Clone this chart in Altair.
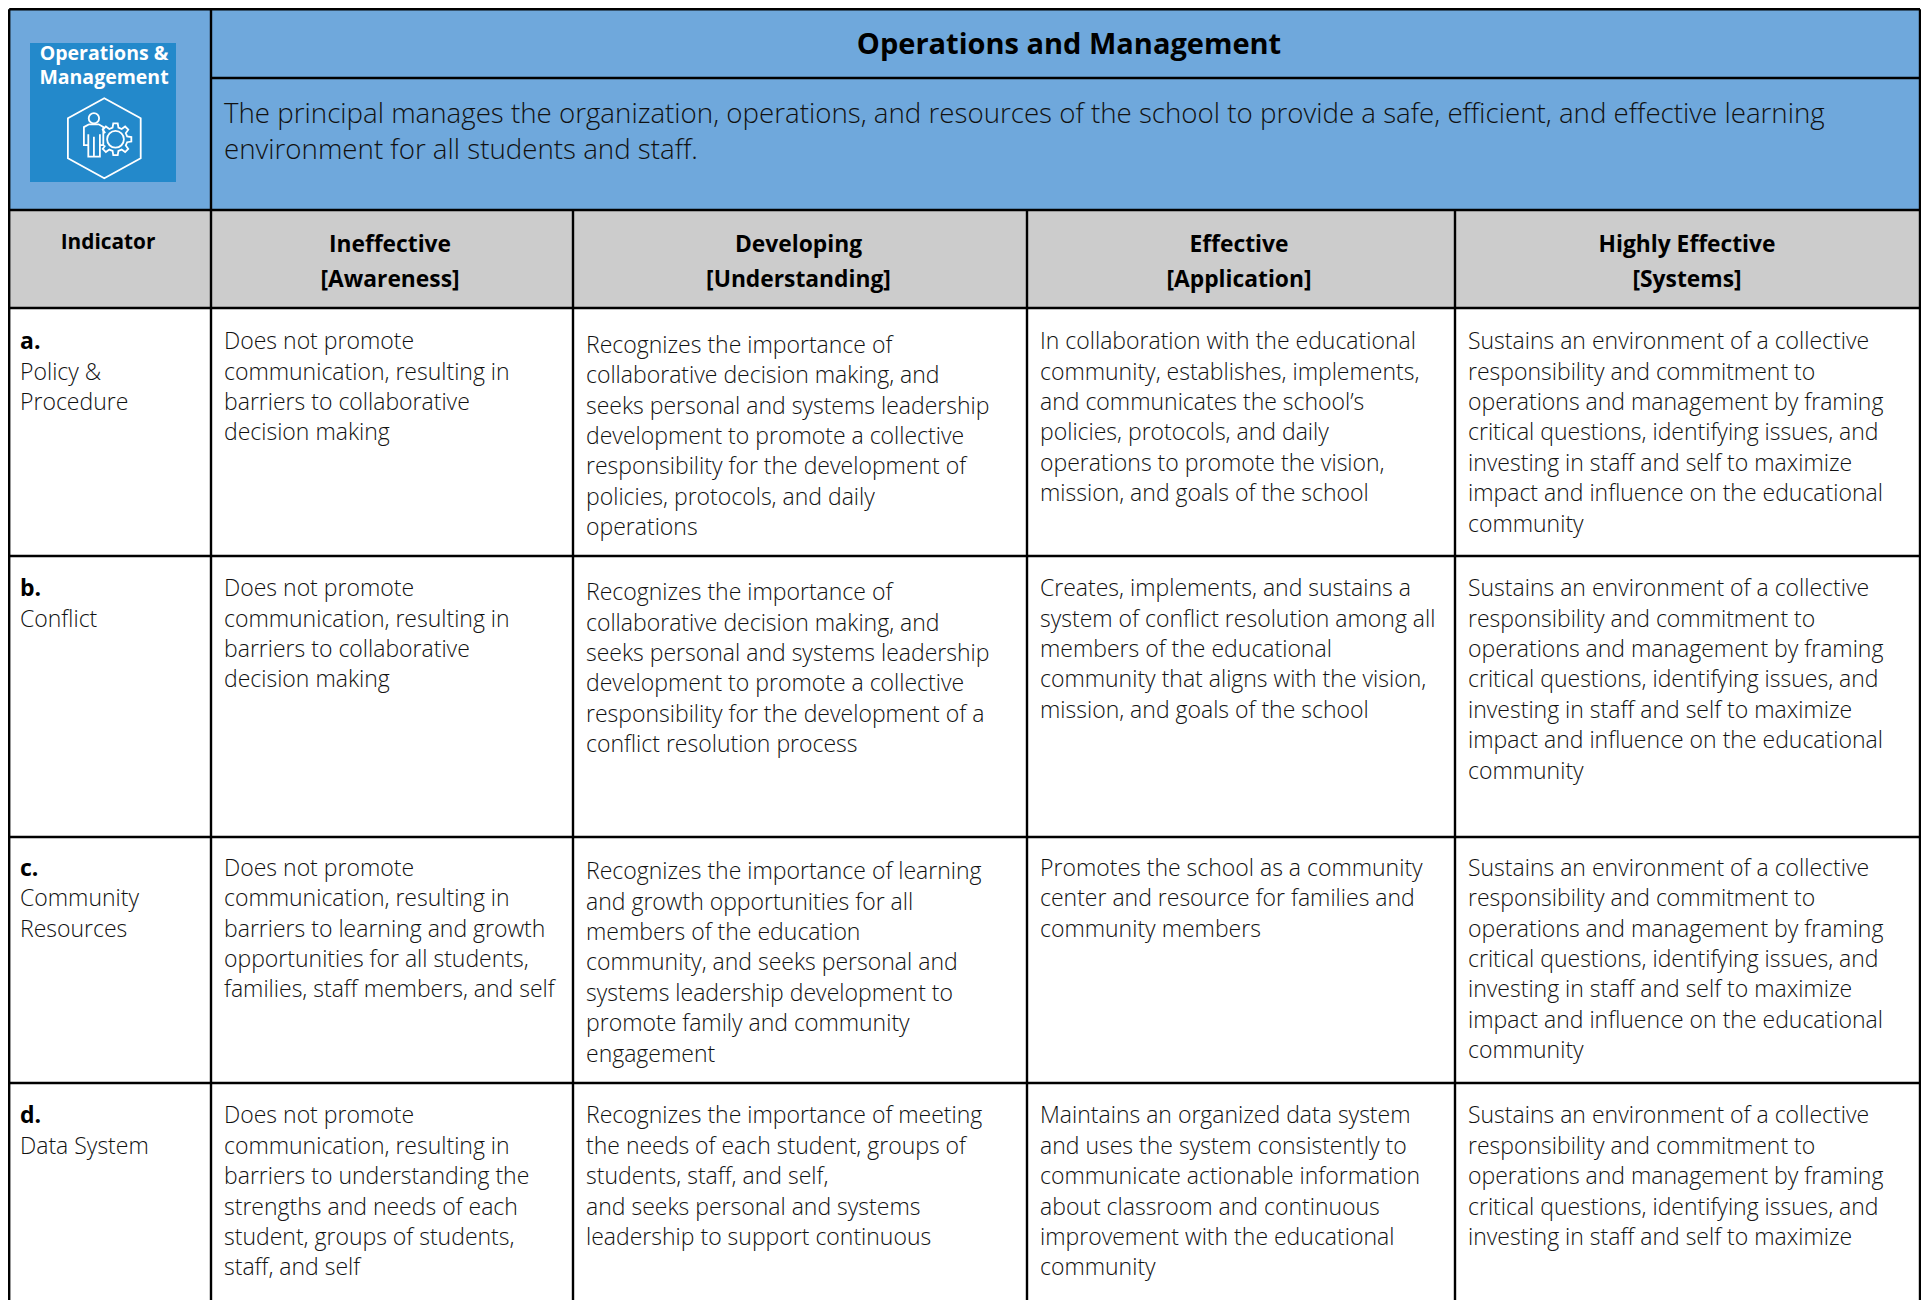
import math
import altair as alt
import pandas as pd

# ---- content -------------------------------------------------------------
logo_lines = ["Operations &", "Management"]
title = "Operations and Management"
description = [
    "The principal manages the organization, operations, and resources of the school to provide a safe, efficient, and effective learning",
    "environment for all students and staff.",
]
indicator_head = ["Indicator"]
level_heads = [
    ["Ineffective", "[Awareness]"],
    ["Developing", "[Understanding]"],
    ["Effective", "[Application]"],
    ["Highly Effective", "[Systems]"],
]
row_letters = ["a.", "b.", "c.", "d."]
row_names = [
    ["Policy &", "Procedure"],
    ["Conflict"],
    ["Community", "Resources"],
    ["Data System"],
]
sustains = [
    "Sustains an environment of a collective",
    "responsibility and commitment to",
    "operations and management by framing",
    "critical questions, identifying issues, and",
    "investing in staff and self to maximize",
    "impact and influence on the educational",
    "community",
]
ineffective = [
    ["Does not promote", "communication, resulting in", "barriers to collaborative", "decision making"],
    ["Does not promote", "communication, resulting in", "barriers to collaborative", "decision making"],
    ["Does not promote", "communication, resulting in", "barriers to learning and growth",
     "opportunities for all students,", "families, staff members, and self"],
    ["Does not promote", "communication, resulting in", "barriers to understanding the",
     "strengths and needs of each", "student, groups of students,", "staff, and self"],
]
developing = [
    ["Recognizes the importance of", "collaborative decision making, and", "seeks personal and systems leadership",
     "development to promote a collective", "responsibility for the development of", "policies, protocols, and daily", "operations"],
    ["Recognizes the importance of", "collaborative decision making, and", "seeks personal and systems leadership",
     "development to promote a collective", "responsibility for the development of a", "conflict resolution process"],
    ["Recognizes the importance of learning", "and growth opportunities for all", "members of the education",
     "community, and seeks personal and", "systems leadership development to", "promote family and community", "engagement"],
    ["Recognizes the importance of meeting", "the needs of each student, groups of", "students, staff, and self,",
     "and seeks personal and systems", "leadership to support continuous"],
]
effective = [
    ["In collaboration with the educational", "community, establishes, implements,", "and communicates the school\u2019s",
     "policies, protocols, and daily", "operations to promote the vision,", "mission, and goals of the school"],
    ["Creates, implements, and sustains a", "system of conflict resolution among all", "members of the educational",
     "community that aligns with the vision,", "mission, and goals of the school"],
    ["Promotes the school as a community", "center and resource for families and", "community members"],
    ["Maintains an organized data system", "and uses the system consistently to", "communicate actionable information",
     "about classroom and continuous", "improvement with the educational", "community"],
]
highly = [sustains, sustains, sustains, sustains[:5]]

# ---- table layout ----------------------------------------------------------
W, H = 1913, 1292
FONT = "Open Sans"
BODY = 23
col_edges = [9.2, 211, 573, 1027, 1455, 1920]
band_edges = [9.2, 78, 210, 308, 556, 837, 1083, 1300]
col_text = [20, 224, 586, 1040, 1468]
row_first = [342.2, 589.2, 868.7, 1116.4]
dev_first = [345.7, 593.2, 872.2, 1116.4]
pitch = 30.4

x = alt.X("x:Q", scale=alt.Scale(domain=[8, 8 + W]), axis=None)
y = alt.Y("y:Q", scale=alt.Scale(domain=[8 + H, 8]), axis=None)

fills = pd.DataFrame([
    dict(x=col_edges[0], x2=col_edges[5], y=band_edges[0], y2=band_edges[2], c="#6fa8dc"),
    dict(x=col_edges[0], x2=col_edges[5], y=band_edges[2], y2=band_edges[3], c="#cccccc"),
    dict(x=30, x2=176, y=43, y2=182, c="#2389cb"),
])
rect = alt.Chart(fills).mark_rect().encode(x=x, x2="x2:Q", y=y, y2="y2:Q", color=alt.Color("c:N", scale=None))

segs = []
for e in [band_edges[0], band_edges[2], band_edges[3], band_edges[4], band_edges[5], band_edges[6]]:
    segs.append(dict(x=col_edges[0], x2=col_edges[5], y=e, y2=e))
segs.append(dict(x=col_edges[1], x2=col_edges[5], y=band_edges[1], y2=band_edges[1]))
for e in [col_edges[0], col_edges[1], col_edges[5]]:
    segs.append(dict(x=e, x2=e, y=band_edges[0], y2=band_edges[7]))
for e in col_edges[2:5]:
    segs.append(dict(x=e, x2=e, y=band_edges[2], y2=band_edges[7]))
rule = alt.Chart(pd.DataFrame(segs)).mark_rule(color="#000000", strokeWidth=2.4).encode(x=x, x2="x2:Q", y=y, y2="y2:Q")

body_rows = []
for r in range(4):
    body_rows.append(dict(x=col_text[0], y=row_first[r], t=row_letters[r], k="b"))
    for i, s in enumerate(row_names[r]):
        body_rows.append(dict(x=col_text[0], y=row_first[r] + (i + 1) * pitch, t=s, k="n"))
    for c, (col, first) in enumerate([(ineffective, row_first), (developing, dev_first), (effective, row_first), (highly, row_first)]):
        for i, s in enumerate(col[r]):
            body_rows.append(dict(x=col_text[c + 1], y=first[r] + i * pitch, t=s, k="n"))
bdf = pd.DataFrame(body_rows)
normal = alt.Chart(bdf[bdf.k == "n"]).mark_text(align="left", baseline="middle", font=FONT, fontSize=BODY, fontWeight=300, color="#111111").encode(x=x, y=y, text="t:N")
bold = alt.Chart(bdf[bdf.k == "b"]).mark_text(align="left", baseline="middle", font=FONT, fontSize=BODY, fontWeight="bold", color="#000000").encode(x=x, y=y, text="t:N")

head_rows = []
centers = [390, 798.5, 1239, 1687]
for c, h in zip(centers, level_heads):
    head_rows.append(dict(x=c, y=245, t=h[0]))
    head_rows.append(dict(x=c, y=280, t=h[1]))
heads = alt.Chart(pd.DataFrame(head_rows)).mark_text(align="center", baseline="middle", font=FONT, fontSize=22.8, fontWeight="bold", color="#000000").encode(x=x, y=y, text="t:N")
ind = alt.Chart(pd.DataFrame([dict(x=108, y=243, t=indicator_head[0])])).mark_text(align="center", baseline="middle", font=FONT, fontSize=20.8, fontWeight="bold", color="#000000").encode(x=x, y=y, text="t:N")

title_t = alt.Chart(pd.DataFrame([dict(x=1069, y=45, t=title)])).mark_text(align="center", baseline="middle", font=FONT, fontSize=29, fontWeight="bold", color="#000000").encode(x=x, y=y, text="t:N")
desc = alt.Chart(pd.DataFrame([dict(x=224, y=114.5 + i * 36.8, t=s) for i, s in enumerate(description)])).mark_text(align="left", baseline="middle", font=FONT, fontSize=27.7, fontWeight=300, color="#111111").encode(x=x, y=y, text="t:N")
logo_t = alt.Chart(pd.DataFrame([dict(x=104, y=54 + i * 24, t=s) for i, s in enumerate(logo_lines)])).mark_text(align="center", baseline="middle", font=FONT, fontSize=19.5, fontWeight="bold", color="#ffffff").encode(x=x, y=y, text="t:N")

# logo icon: outlines defined in the symbol's unit square
hexagon = "M0,-1L0.91,-0.5L0.91,0.5L0,1L-0.91,0.5L-0.91,-0.5Z"
head_c = "M-0.13,-0.5a0.13,0.13 0 1,0 -0.26,0a0.13,0.13 0 1,0 0.26,0Z"
person = ("M-0.38,-0.35L-0.14,-0.35L-0.025,-0.28L-0.025,0.17L-0.11,0.17L-0.11,-0.1M-0.11,0.17L-0.11,0.46L-0.4,0.46L-0.4,-0.1"
          "M-0.4,0.17L-0.51,0.17L-0.51,-0.28L-0.38,-0.35M-0.26,-0.04L-0.26,0.46")
GX, GY = 0.28, 0.025
gear_inner = f"M{GX + 0.21},{GY}a0.21,0.21 0 1,0 -0.42,0a0.21,0.21 0 1,0 0.42,0Z"
gear_pts = []
for k in range(5, 12):
    a = k * 45
    for r, d in [(0.3, -14), (0.4, -8), (0.4, 8), (0.3, 14)]:
        t = math.radians(a + d)
        gear_pts.append(f"{GX + r * math.cos(t):.3f},{GY + r * math.sin(t):.3f}")
gear = "M" + "L".join(gear_pts)
icon_df = pd.DataFrame([dict(x=104.3, y=138.3)])
icon_layers = [
    alt.Chart(icon_df).mark_point(shape=p, size=6400, filled=False, stroke="#ffffff", strokeWidth=1.8, opacity=1).encode(x=x, y=y)
    for p in [hexagon, head_c, person, gear_inner, gear]
]

chart = alt.layer(rect, rule, normal, bold, heads, ind, title_t, desc, logo_t, *icon_layers).properties(
    width=W, height=H, padding=0, autosize=alt.AutoSizeParams(type="none")
).configure_view(stroke=None)

chart.save("out.html", embed_options={"renderer": "svg", "actions": False})
